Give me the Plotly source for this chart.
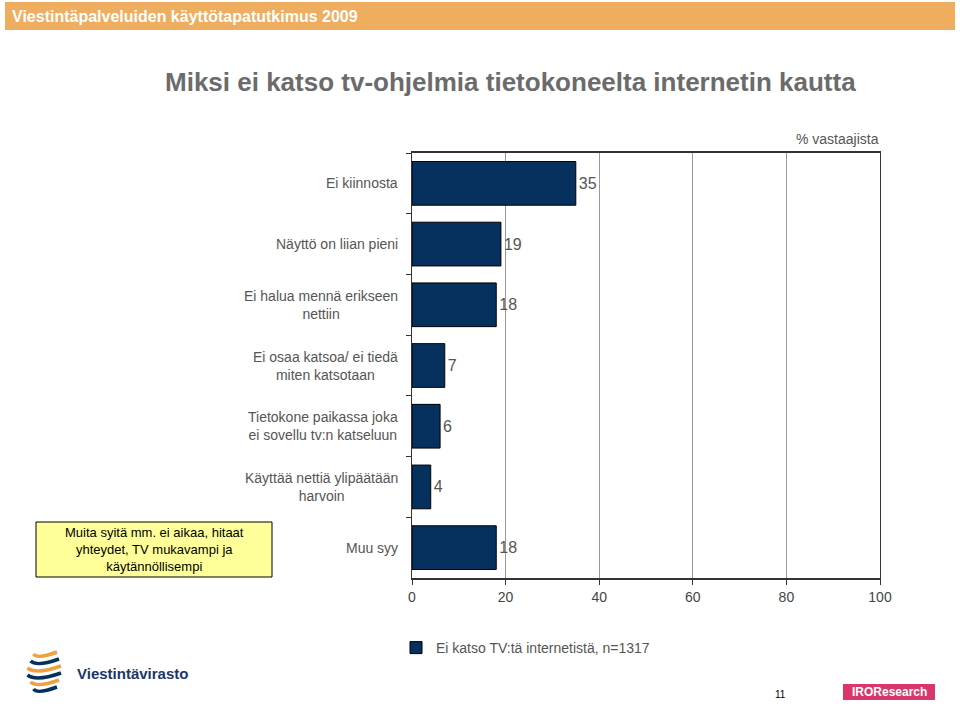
import plotly.graph_objects as go

# ---- data ----
categories = [
    "Ei kiinnosta",
    "Näyttö on liian pieni",
    "Ei halua mennä erikseen<br>nettiin",
    "Ei osaa katsoa/ ei tiedä<br>miten katsotaan",
    "Tietokone paikassa joka<br>ei sovellu tv:n katseluun",
    "Käyttää nettiä ylipäätään<br>harvoin",
    "Muu syy",
]
values = [35, 19, 18, 7, 6, 4, 18]
series_name = "Ei katso TV:tä internetistä, n=1317"
x_ticks = [0, 20, 40, 60, 80, 100]

header_text = "Viestintäpalveluiden käyttötapatutkimus 2009"
title_text = "Miksi ei katso tv-ohjelmia tietokoneelta internetin kautta"
unit_text = "% vastaajista"
note_text = "Muita syitä mm. ei aikaa, hitaat<br>yhteydet, TV mukavampi ja<br>käytännöllisempi"

W, H = 960, 706
L, R, T, B = 412, 880, 153, 578


def px(x):
    return (x - L) / (R - L)


def py(y):
    return (B - y) / (B - T)


FONT = "Liberation Sans, Arial, sans-serif"
NAVY = "#06315f"
GRAY = "#555555"

fig = go.Figure()
fig.add_trace(go.Bar(
    y=categories, x=values, orientation="h",
    name=series_name,
    marker=dict(color=NAVY, line=dict(color="#000000", width=1)),
    width=0.72,
    text=[str(v) for v in values], textposition="outside",
    textfont=dict(family=FONT, size=16, color="#555555"),
    cliponaxis=False,
    showlegend=True,
))

shapes = []
annotations = []

# header bar
shapes.append(dict(type="rect", xref="paper", yref="paper",
                   x0=px(5), x1=px(955), y0=py(30), y1=py(2),
                   fillcolor="#EFAD5F", line=dict(width=0), layer="below"))
annotations.append(dict(xref="paper", yref="paper", x=px(10), y=py(16),
                        xanchor="left", yanchor="middle", showarrow=False,
                        text="<b>" + header_text + "</b>",
                        font=dict(family=FONT, size=16, color="#ffffff")))

# main title
annotations.append(dict(xref="paper", yref="paper", x=px(510), y=py(82),
                        xanchor="center", yanchor="middle", showarrow=False,
                        text="<b>" + title_text + "</b>",
                        font=dict(family=FONT, size=26, color="#6b6b6b")))

# unit label
annotations.append(dict(xref="paper", yref="paper", x=px(881), y=py(139),
                        xanchor="right", yanchor="middle", showarrow=False,
                        text=unit_text,
                        font=dict(family=FONT, size=14, color=GRAY)))

# category labels (centered multi-line)
for c in categories:
    annotations.append(dict(xref="paper", yref="y", x=0, y=c, xshift=-12,
                            xanchor="right", yanchor="middle", align="center",
                            showarrow=False, text=c,
                            font=dict(family=FONT, size=14, color=GRAY)))

# yellow note box
shapes.append(dict(type="rect", xref="paper", yref="paper",
                   x0=px(36), x1=px(272), y0=py(577), y1=py(522),
                   fillcolor="#FFFF99", line=dict(color="#000000", width=1)))
annotations.append(dict(xref="paper", yref="paper", x=px(154), y=py(549.5),
                        xanchor="center", yanchor="middle", align="center",
                        showarrow=False, text=note_text,
                        font=dict(family=FONT, size=13, color="#000000")))

# page number
annotations.append(dict(xref="paper", yref="paper", x=px(780), y=py(694),
                        xanchor="center", yanchor="middle", showarrow=False,
                        text="11", font=dict(family=FONT, size=10, color="#000000")))

# IROResearch logo
shapes.append(dict(type="rect", xref="paper", yref="paper",
                   x0=px(843), x1=px(935), y0=py(700), y1=py(684),
                   fillcolor="#D9366B", line=dict(width=0)))
annotations.append(dict(xref="paper", yref="paper", x=px(889), y=py(692),
                        xanchor="center", yanchor="middle", showarrow=False,
                        text="<b>IROResearch</b>",
                        font=dict(family=FONT, size=12, color="#ffffff")))

# Viestintävirasto logo (swirl + text)
arc_specs = [
    (654, "#F0A040"), (661, NAVY), (668, "#F0A040"), (675, NAVY),
    (682, "#F0A040"), (689, NAVY),
]
for i, (yy, col) in enumerate(arc_specs):
    half = 10 - abs(i - 2.5) * 1.6
    x0p, x1p = 26 + abs(i - 2.5) * 3, 62 - abs(i - 2.5) * 2
    path = "M {:.5f},{:.5f} Q {:.5f},{:.5f} {:.5f},{:.5f}".format(
        px(x0p), py(yy), px((x0p + x1p) / 2 - 8), py(yy + half * 0.4 + 3), px(x1p), py(yy - 2))
    shapes.append(dict(type="path", xref="paper", yref="paper", path=path,
                       line=dict(color=col, width=3.5)))
annotations.append(dict(xref="paper", yref="paper", x=px(75), y=py(673),
                        xanchor="left", yanchor="middle", showarrow=False,
                        text="<b>Viestintävirasto</b>",
                        font=dict(family=FONT, size=15, color="#1b3768")))

fig.update_layout(
    width=W, height=H,
    margin=dict(l=L, r=W - R, t=T, b=H - B, pad=0),
    paper_bgcolor="#ffffff", plot_bgcolor="#ffffff",
    font=dict(family=FONT, color=GRAY),
    bargap=0.28,
    shapes=shapes, annotations=annotations,
    showlegend=True,
    legend=dict(x=px(396), y=py(648), xanchor="left", yanchor="middle",
                orientation="h", bgcolor="rgba(0,0,0,0)",
                font=dict(family=FONT, size=14, color=GRAY),
                itemwidth=30),
    xaxis=dict(range=[0, 100], tickvals=x_ticks, showgrid=True,
               gridcolor="#9a9a9a", gridwidth=1, zeroline=False,
               showline=True, linecolor="#333333", linewidth=2, mirror=True,
               ticks="outside", ticklen=5, tickcolor="#333333",
               tickfont=dict(family=FONT, size=14, color="#444444"),
               fixedrange=True),
    yaxis=dict(autorange="reversed", showticklabels=False,
               showline=True, linecolor="#333333", linewidth=1, mirror=True,
               ticks="outside", ticklen=5, tickcolor="#333333",
               tickson="boundaries", showgrid=False, fixedrange=True),
)

fig.write_html("out.html", config={"displayModeBar": False},
               post_script="document.body.style.margin='0';document.body.style.overflow='hidden';")
